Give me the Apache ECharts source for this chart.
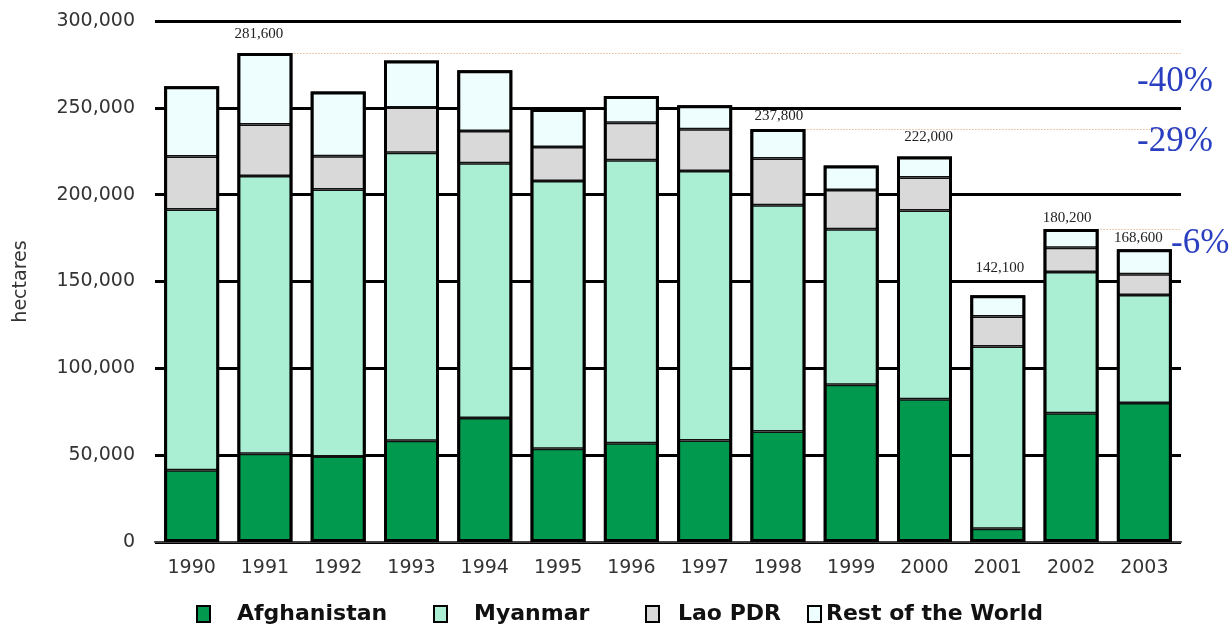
<!DOCTYPE html>
<html>
<head>
<meta charset="utf-8">
<script src="https://cdn.jsdelivr.net/npm/echarts@6/dist/echarts.min.js"></script>
<style>
  html, body { margin: 0; padding: 0; background: #fff; }
  #chart { width: 1231px; height: 625px; }
</style>
</head>
<body>
<div id="chart"></div>
<script>
// Opium poppy cultivation (hectares) by country, 1990-2003
const years = ['1990','1991','1992','1993','1994','1995','1996','1997','1998','1999','2000','2001','2002','2003'];
const afghanistan = [41300, 50800, 49300, 58300, 71470, 53759, 56824, 58416, 63674, 90583, 82171, 7606, 74100, 80000];
const myanmar     = [150100, 160000, 153700, 165800, 146600, 154070, 163000, 155150, 130300, 89500, 108700, 105000, 81400, 62200];
const laoPDR      = [30580, 29625, 19190, 26040, 18520, 19650, 21601, 24082, 26837, 22543, 19052, 17255, 14000, 12000];
const restOfWorld = [40400, 41175, 37200, 27100, 35000, 21800, 15400, 13900, 16989, 14100, 12077, 12239, 10700, 14400];

// years whose total is printed above the bar
const labelledYears = ['1991', '1998', '2000', '2001', '2002', '2003'];
// reference years compared with the final year (dotted guide + % change)
const referenceYears = ['1991', '1998', '2002'];

const totals = years.map((_, i) => afghanistan[i] + myanmar[i] + laoPDR[i] + restOfWorld[i]);
const fmt = v => Math.round(v).toLocaleString('en-US');

// small per-label nudges [dx, dy] for the printed totals
const labelNudge = {
  '1991': [-6, -7], '1998': [1, -1], '2000': [4, -8],
  '2001': [2, -16], '2002': [-4, 1], '2003': [-6, 0]
};

const chart = echarts.init(document.getElementById('chart'), null, { renderer: 'canvas' });

const segStyle = color => ({ color: color, borderColor: '#111', borderWidth: 1.5 });
const BAR_W = 55;
const GRID = { left: 155, right: 50, top: 21, bottom: 83 };

const lastTotal = totals[totals.length - 1];
const pct = y => {
  const t = totals[years.indexOf(y)];
  return Math.round((lastTotal / t - 1) * 100) + '%';
};

const legendText = { fontFamily: 'DejaVu Sans', fontWeight: 'bold', fontSize: 22, color: '#111' };
const legendItem = (name, left, gap) => ({
  data: [name],
  left: left,
  top: 598,
  icon: 'rect',
  itemWidth: 13,
  itemHeight: 16,
  selectedMode: false,
  itemStyle: { borderColor: '#000', borderWidth: 2 },
  textStyle: Object.assign({}, legendText, { padding: [0, 0, 0, gap] })
});

chart.setOption({
  animation: false,
  backgroundColor: '#fff',
  grid: Object.assign({ containLabel: false }, GRID),
  legend: [
    legendItem('Afghanistan', 191, 22),
    legendItem('Myanmar', 428, 22),
    legendItem('Lao PDR', 640, 14),
    legendItem('Rest of the World', 802, 0)
  ],
  xAxis: {
    type: 'category',
    data: years,
    axisLine: { lineStyle: { color: '#444', width: 2 } },
    axisTick: { show: false },
    axisLabel: { fontFamily: 'DejaVu Sans', fontSize: 19, color: '#333', margin: 17 }
  },
  yAxis: {
    type: 'value',
    min: 0, max: 300000, interval: 50000,
    name: 'hectares',
    nameLocation: 'middle',
    nameRotate: 90,
    nameGap: 124,
    nameTextStyle: { fontFamily: 'DejaVu Sans', fontSize: 19, color: '#333' },
    axisLine: { show: false },
    axisTick: { show: false },
    splitLine: { lineStyle: { color: '#000', width: 3 } },
    axisLabel: { fontFamily: 'DejaVu Sans', fontSize: 19, color: '#333', margin: 20, formatter: v => fmt(v) }
  },
  series: [
    { name: 'Afghanistan', type: 'bar', stack: 'total', barWidth: BAR_W, barGap: '-100%',
      data: afghanistan, itemStyle: segStyle('#00994d') },
    { name: 'Myanmar', type: 'bar', stack: 'total', barWidth: BAR_W, barGap: '-100%',
      data: myanmar, itemStyle: segStyle('#aaefd4') },
    { name: 'Lao PDR', type: 'bar', stack: 'total', barWidth: BAR_W, barGap: '-100%',
      data: laoPDR, itemStyle: segStyle('#d9d9d9') },
    { name: 'Rest of the World', type: 'bar', stack: 'total', barWidth: BAR_W, barGap: '-100%',
      data: restOfWorld, itemStyle: segStyle('#eefdfd') },
    {
      name: 'total', type: 'bar', barWidth: BAR_W, barGap: '-100%', z: 4,
      itemStyle: { color: 'rgba(0,0,0,0)', borderColor: '#000', borderWidth: 3 },
      data: totals.map((t, i) => {
        const y = years[i];
        const show = labelledYears.indexOf(y) >= 0;
        return {
          value: t,
          label: {
            show: show,
            position: 'top',
            distance: 4,
            offset: show ? labelNudge[y] : [0, 0],
            formatter: () => fmt(t),
            fontFamily: 'Liberation Serif',
            fontSize: 15,
            color: '#222'
          }
        };
      })
    }
  ]
});

// Dotted guides from each reference bar to the right edge, plus % change labels
const rightEdge = 1231 - GRID.right;
const guides = referenceYears.map(y => {
  const t = totals[years.indexOf(y)];
  const p = chart.convertToPixel({ gridIndex: 0 }, [y, t]);
  return {
    type: 'line',
    z: 1,
    silent: true,
    shape: { x1: p[0] + BAR_W / 2 - 4, y1: Math.round(p[1]) + 0.5, x2: rightEdge, y2: Math.round(p[1]) + 0.5 },
    style: { stroke: '#dc9a62', lineWidth: 1, lineDash: [1, 2] }
  };
});

const pctText = (y, x, cy) => ({
  type: 'text', x: x, y: cy, z: 10,
  style: { text: pct(y), font: '35px "Liberation Serif"', fill: '#2a3fbf', textVerticalAlign: 'middle' }
});

chart.setOption({
  graphic: guides.concat([
    pctText('1991', 1137, 82),
    pctText('1998', 1137, 142),
    pctText('2002', 1171, 244)
  ])
});
</script>
</body>
</html>
